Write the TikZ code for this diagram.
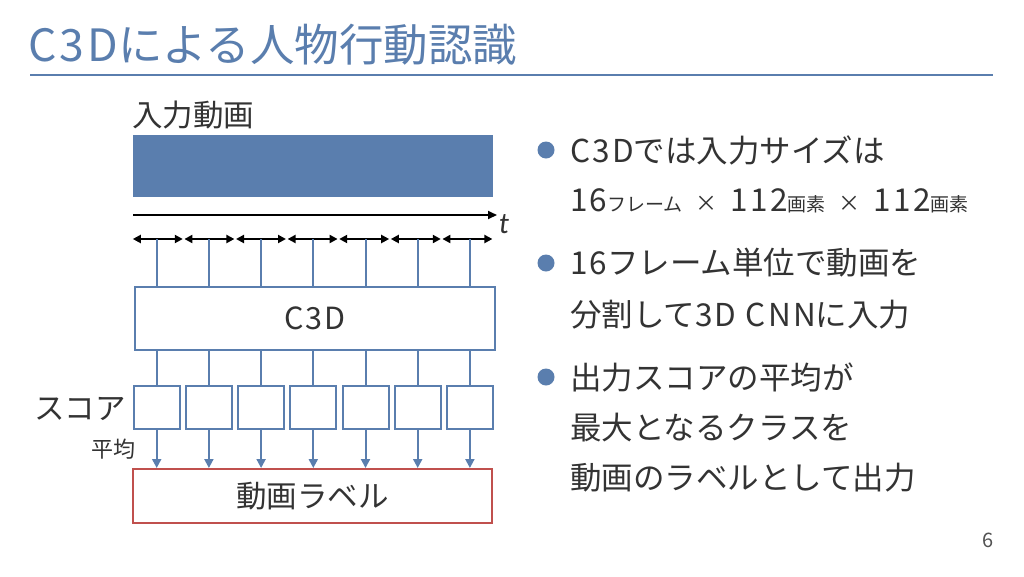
\documentclass[tikz,border=0pt]{standalone}
\usepackage{fontspec}
\setmainfont{Noto Sans CJK JP}
\newfontfamily\carlito{Carlito}
\usetikzlibrary{arrows.meta,calc}
\definecolor{accent}{HTML}{5A7EAE}
\definecolor{redline}{HTML}{C0504D}
\definecolor{txt}{HTML}{333333}
\newcommand{\sm}[1]{{\fontsize{19}{21}\selectfont #1}}
\newcommand{\lt}[1]{{\addfontfeatures{LetterSpace=7}#1}}
\newcommand{\tms}{{\fontsize{22}{24}\selectfont ×}}
\tikzset{
  bluebox/.style={draw=accent,line width=2pt,fill=white,minimum width=#1,inner sep=0pt},
  conn/.style={draw=accent,line width=2pt},
  connarrow/.style={conn,-{Triangle[length=9pt,width=9pt]}},
  segarrow/.style={black,line width=2pt,{Triangle[length=8pt,width=8pt]}-{Triangle[length=8pt,width=8pt]}},
  body/.style={text=txt,font=\fontsize{31.5}{34}\selectfont,anchor=west,inner sep=0pt},
  lbl/.style={text=txt,font=\fontsize{30.5}{34}\selectfont,inner sep=0pt},
  dot/.style={circle,fill=accent,minimum size=17pt,inner sep=0pt},
}
\begin{document}
\begin{tikzpicture}[x=1pt,y=-1pt]
\useasboundingbox (0,0) rectangle (1024,576);
\fill[white] (0,0) rectangle (1024,576);
% title
\node[anchor=west,inner sep=0pt,text=accent,font=\fontsize{44.5}{46}\selectfont] (title) at (28,45) {\lt{C3D}による人物行動認識};
\coordinate (rl) at (30,75);
\coordinate (rr) at (993,75);
\draw[accent,line width=1.5pt] (rl) -- (rr);
% input video
\node[lbl,anchor=west] (inlabel) at (132,115) {入力動画};
\node[fill=accent,minimum width=360pt,minimum height=62pt,inner sep=0pt] (video) at (313,166) {};
% time arrow
\coordinate (ts) at (133,215);
\coordinate (te) at (497,215);
\draw[black,line width=2pt,-{Triangle[length=9pt,width=8pt]}] (ts) -- (te);
\node[inner sep=0pt,font=\fontsize{30}{34}\selectfont\carlito\itshape,text=txt] (t) at (504,224) {t};
% segments
\foreach \i in {0,...,7}{
  \coordinate (d\i) at ({132+51.6*\i},239);
}
\foreach \i [evaluate=\i as \j using int(\i+1)] in {0,...,6}{
  \draw[segarrow,shorten <=0.8pt,shorten >=0.8pt] (d\i) -- (d\j);
}
% C3D box
\node[bluebox=360pt,minimum height=63pt,text=txt,font=\fontsize{30.5}{34}\selectfont] (c3d) at (315,318.5) {\lt{C3D}};
% squares and red box
\node[draw=redline,line width=2pt,minimum width=359pt,minimum height=54pt,inner sep=0pt,text=txt,font=\fontsize{30.5}{34}\selectfont] (label) at (312.5,496) {動画ラベル};
\foreach \i in {0,...,6}{
  \node[bluebox=46pt,minimum height=43pt] (sq\i) at ({156.7+52.2*\i},407.5) {};
  \coordinate (s\i) at ({156.7+52.2*\i},239);
  \draw[conn] (s\i) -- (s\i |- c3d.north);
  \draw[conn] (sq\i.north |- c3d.south) -- (sq\i.north);
  \draw[connarrow] (sq\i.south) -- (sq\i.south |- label.north);
}
\node[lbl,anchor=west] (score) at (34,409) {スコア};
\node[inner sep=0pt,text=txt,font=\fontsize{22}{24}\selectfont] (avg) at (113,449) {平均};
% bullets
\node[dot] (b1) at (546,150) {};
\node[dot] (b2) at (546,263) {};
\node[dot] (b3) at (546,377) {};
\node[body] (l1) at (570,150) {\lt{C3D}では入力サイズは};
\node[body] (l2) at (570,201) {\lt{16}\sm{フレーム}\hspace{13pt}\tms\hspace{13pt}\lt{112}\sm{画素}\hspace{13pt}\tms\hspace{13pt}\lt{112}\sm{画素}};
\node[body] (l3) at (570,263) {\lt{16}フレーム単位で動画を};
\node[body] (l4) at (570,315) {分割して\lt{3D CNN}に入力};
\node[body] (l5) at (570,377) {出力スコアの平均が};
\node[body] (l6) at (570,428) {最大となるクラスを};
\node[body] (l7) at (570,478) {動画のラベルとして出力};
% page number
\node[inner sep=0pt,text=txt!85,font=\fontsize{20}{22}\selectfont] (page) at (988,540) {6};
\end{tikzpicture}
\end{document}
